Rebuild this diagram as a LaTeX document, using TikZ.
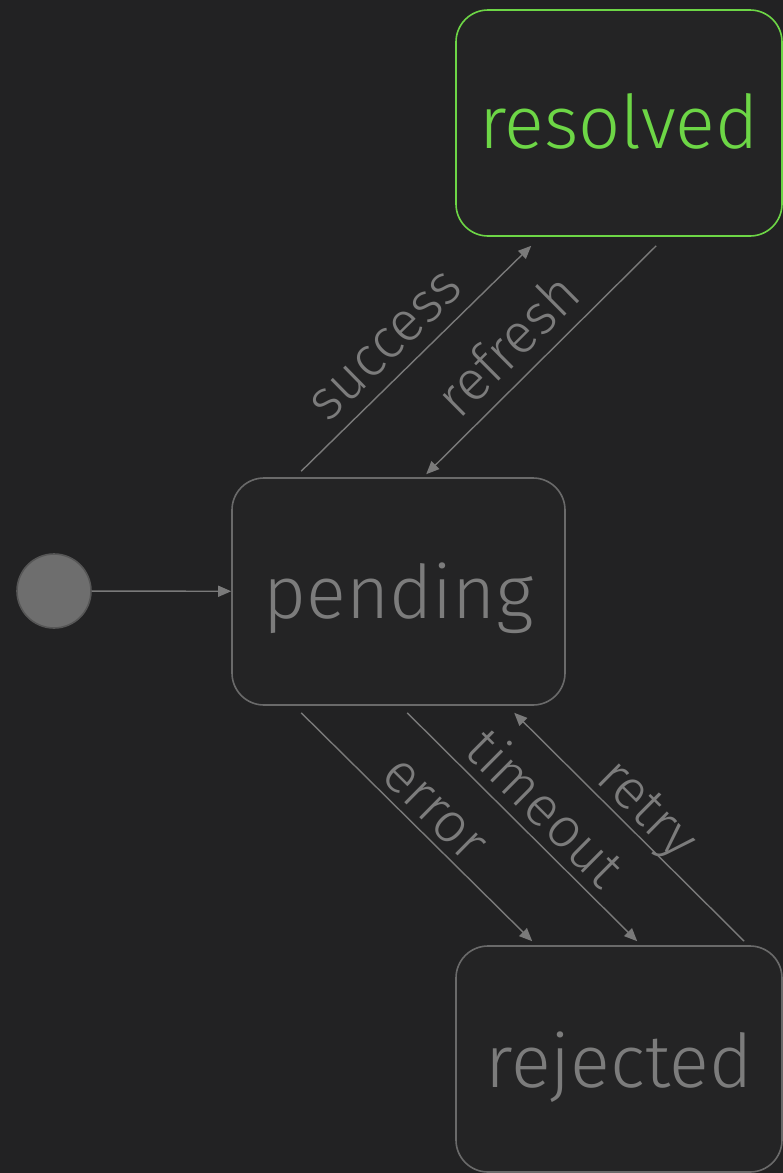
\documentclass[tikz,border=0pt]{standalone}
\usepackage{fontspec}
\setmainfont{Fira Sans Light}
\usetikzlibrary{arrows.meta,calc}
\definecolor{bgcol}{HTML}{222223}
\definecolor{boxfill}{HTML}{242425}
\definecolor{stategray}{HTML}{6A6A6A}
\definecolor{textgray}{HTML}{7C7C7C}
\definecolor{linegray}{HTML}{7A7A7A}
\definecolor{okgreen}{HTML}{6DD646}
\definecolor{initfill}{HTML}{6E6E6E}
\definecolor{initdraw}{HTML}{565656}
\newcommand{\lowered}[2]{\raisebox{-#1}[0pt][0pt]{#2}}
\tikzset{
  statebox/.style={draw=stategray, fill=boxfill, line width=1.6pt, rounded corners=32pt,
    minimum width=333pt, minimum height=227pt, inner sep=0pt, text=textgray,
    font=\fontsize{74}{80}\selectfont},
  okbox/.style={statebox, draw=okgreen, text=okgreen, minimum width=326pt, minimum height=226pt},
  badbox/.style={statebox, minimum width=326pt, minimum height=226pt},
  initstate/.style={circle, fill=initfill, draw=initdraw, line width=1.6pt, minimum size=74pt, inner sep=0pt},
  arr/.style={draw=linegray, line width=1.4pt, -{Triangle[length=13pt,width=11pt]}},
  lbl/.style={sloped, inner sep=0pt, text depth=0pt, text=textgray, font=\fontsize{56}{60}\selectfont}
}
\begin{document}
\begin{tikzpicture}[x=1pt,y=-1pt]
\fill[bgcol] (0,0) rectangle (783,1173);
\useasboundingbox (0,0) rectangle (783,1173);

\node[okbox] (resolved) at (619,123) {\lowered{25pt}{resolved}};
\node[statebox] (pending) at (398.5,591.5) {\lowered{26.5pt}{pending}};
\node[badbox] (rejected) at (619,1059) {\lowered{28pt}{rejected}};
\node[initstate] (init) at (54,591) {};

\draw[arr] (init) -- (pending);

\draw[arr] ($(pending.north west)+(70,-6)$) -- node[lbl, pos=0.46, above=14pt] {success} ($(resolved.south west)+(76,9)$);
\draw[arr] ($(resolved.south west)+(201,9)$) -- node[lbl, pos=0.54, above=14pt] {refresh} ($(pending.north west)+(195,-3)$);
\draw[arr] ($(pending.south west)+(70,7)$) -- node[lbl, pos=0.5, above=8pt] {error} ($(rejected.north west)+(77,-4)$);
\draw[arr] ($(pending.south west)+(176,7)$) -- node[lbl, pos=0.51, above=10pt] {timeout} ($(rejected.north west)+(182,-4)$);
\draw[arr] ($(rejected.north west)+(289,-4)$) -- node[lbl, pos=0.5, above=8pt] {retry} ($(pending.south west)+(283,7)$);
\end{tikzpicture}
\end{document}
